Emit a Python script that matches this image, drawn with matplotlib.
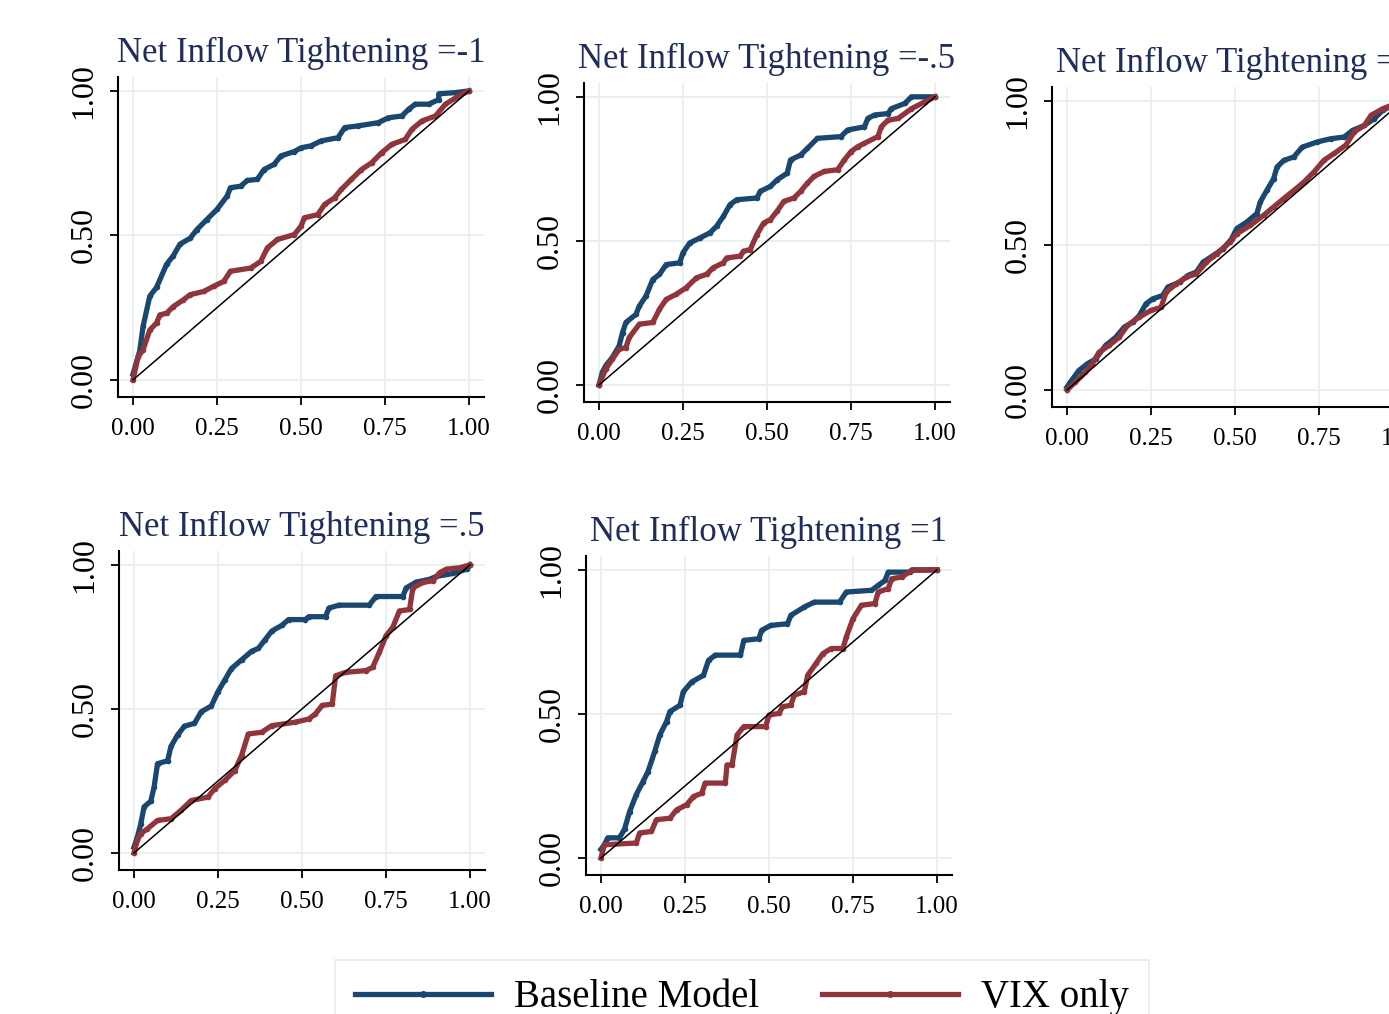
import matplotlib
matplotlib.use("Agg")
import matplotlib.pyplot as plt

plt.rcParams['font.family'] = ['Liberation Serif', 'DejaVu Serif']

titles = ["Net Inflow Tightening =-1", "Net Inflow Tightening =-.5",
          "Net Inflow Tightening =0", "Net Inflow Tightening =.5",
          "Net Inflow Tightening =1"]
series_names = ["Baseline Model", "VIX only"]
tick_vals = [0, 0.25, 0.5, 0.75, 1.0]
ytick_vals = [0, 0.5, 1.0]

# panel 1 (=-1)
base1_x = [0.00, 0.02, 0.03, 0.05, 0.07, 0.10, 0.12, 0.14, 0.17, 0.19, 0.22, 0.25, 0.28, 0.29,
           0.32, 0.34, 0.37, 0.39, 0.42, 0.44, 0.48, 0.50, 0.53, 0.56, 0.61, 0.63, 0.67, 0.73,
           0.76, 0.80, 0.82, 0.84, 0.88, 0.91, 0.91, 0.96, 1.00]
base1_y = [0.02, 0.10, 0.185, 0.29, 0.32, 0.40, 0.43, 0.47, 0.49, 0.52, 0.555, 0.59, 0.636, 0.665,
           0.67, 0.69, 0.694, 0.728, 0.746, 0.775, 0.79, 0.803, 0.81, 0.827, 0.838, 0.873, 0.879, 0.89,
           0.907, 0.913, 0.936, 0.954, 0.954, 0.97, 0.99, 0.994, 1.00]
vix1_x = [0.00, 0.015, 0.03, 0.05, 0.07, 0.08, 0.10, 0.12, 0.15, 0.17, 0.21, 0.24, 0.27, 0.29,
          0.35, 0.38, 0.40, 0.43, 0.48, 0.50, 0.51, 0.55, 0.57, 0.60, 0.62, 0.65, 0.68, 0.71,
          0.74, 0.77, 0.81, 0.83, 0.86, 0.90, 0.93, 0.97, 1.00]
vix1_y = [0.00, 0.08, 0.104, 0.173, 0.197, 0.225, 0.231, 0.254, 0.277, 0.295, 0.306, 0.324, 0.341, 0.376,
          0.387, 0.41, 0.457, 0.486, 0.503, 0.532, 0.561, 0.572, 0.607, 0.63, 0.659, 0.694, 0.728, 0.751,
          0.786, 0.815, 0.832, 0.867, 0.896, 0.913, 0.954, 0.983, 1.00]

# panel 2 (=-.5)
base2_x = [0.00, 0.01, 0.02, 0.04, 0.06, 0.07, 0.08, 0.11, 0.12, 0.14, 0.16, 0.18, 0.20, 0.24,
           0.25, 0.27, 0.30, 0.33, 0.35, 0.37, 0.39, 0.41, 0.47, 0.48, 0.51, 0.53, 0.56, 0.57,
           0.60, 0.62, 0.65, 0.72, 0.74, 0.79, 0.80, 0.82, 0.86, 0.87, 0.91, 0.93, 1.00]
base2_y = [0.00, 0.044, 0.067, 0.096, 0.136, 0.182, 0.217, 0.245, 0.274, 0.309, 0.366, 0.384, 0.418, 0.424,
           0.459, 0.493, 0.51, 0.528, 0.551, 0.585, 0.626, 0.643, 0.649, 0.672, 0.689, 0.712, 0.735, 0.781,
           0.798, 0.821, 0.856, 0.862, 0.885, 0.896, 0.925, 0.937, 0.942, 0.959, 0.977, 1.00, 1.00]
vix2_x = [0.00, 0.02, 0.04, 0.06, 0.08, 0.09, 0.12, 0.16, 0.18, 0.20, 0.23, 0.26, 0.29, 0.32,
          0.34, 0.37, 0.38, 0.42, 0.43, 0.45, 0.47, 0.49, 0.51, 0.53, 0.55, 0.58, 0.60, 0.62,
          0.64, 0.67, 0.71, 0.73, 0.75, 0.77, 0.79, 0.83, 0.84, 0.86, 0.89, 0.93, 0.97, 1.00]
vix2_y = [0.00, 0.055, 0.09, 0.124, 0.13, 0.165, 0.211, 0.217, 0.263, 0.297, 0.315, 0.338, 0.372, 0.384,
          0.407, 0.424, 0.441, 0.447, 0.464, 0.47, 0.522, 0.562, 0.574, 0.603, 0.637, 0.649, 0.672, 0.70,
          0.724, 0.741, 0.747, 0.781, 0.81, 0.827, 0.839, 0.862, 0.896, 0.919, 0.925, 0.959, 0.983, 1.00]

# panel 3 (=0)
base3_x = [0.00, 0.01, 0.035, 0.06, 0.085, 0.115, 0.145, 0.17, 0.195, 0.215, 0.235, 0.255, 0.285, 0.30,
           0.335, 0.36, 0.385, 0.405, 0.435, 0.465, 0.49, 0.505, 0.535, 0.565, 0.575, 0.595, 0.615,
           0.625, 0.645, 0.675, 0.70, 0.745, 0.785, 0.825, 0.85, 0.885, 0.915, 0.94, 0.96, 1.00]
base3_y = [0.01, 0.027, 0.067, 0.09, 0.107, 0.154, 0.182, 0.217, 0.234, 0.257, 0.298, 0.315, 0.327, 0.356,
           0.373, 0.396, 0.408, 0.442, 0.465, 0.488, 0.523, 0.558, 0.581, 0.61, 0.65, 0.691, 0.731,
           0.771, 0.794, 0.806, 0.84, 0.858, 0.869, 0.875, 0.898, 0.915, 0.939, 0.968, 0.979, 1.00]
vix3_x = [0.00, 0.025, 0.055, 0.075, 0.095, 0.125, 0.155, 0.18, 0.215, 0.25, 0.28, 0.295, 0.325, 0.355,
          0.385, 0.415, 0.445, 0.485, 0.505, 0.545, 0.585, 0.615, 0.645, 0.675, 0.705, 0.735, 0.765,
          0.795, 0.83, 0.855, 0.885, 0.905, 0.94, 1.00]
vix3_y = [0.00, 0.027, 0.061, 0.09, 0.13, 0.154, 0.182, 0.223, 0.252, 0.275, 0.286, 0.338, 0.367, 0.39,
          0.402, 0.442, 0.471, 0.512, 0.54, 0.569, 0.604, 0.633, 0.662, 0.69, 0.719, 0.754, 0.795,
          0.818, 0.847, 0.893, 0.915, 0.95, 0.973, 1.00]

# panel 4 (=.5)
base4_x = [0.00, 0.01, 0.02, 0.03, 0.05, 0.06, 0.07, 0.10, 0.11, 0.13, 0.15, 0.18, 0.20, 0.23,
           0.25, 0.27, 0.29, 0.32, 0.35, 0.37, 0.39, 0.41, 0.44, 0.46, 0.51, 0.52, 0.57, 0.58,
           0.61, 0.70, 0.72, 0.80, 0.81, 0.84, 0.88, 0.90, 0.95, 0.99, 1.00]
base4_y = [0.02, 0.055, 0.10, 0.16, 0.18, 0.23, 0.31, 0.32, 0.37, 0.41, 0.44, 0.45, 0.49, 0.51,
           0.56, 0.60, 0.64, 0.67, 0.70, 0.71, 0.74, 0.77, 0.79, 0.81, 0.81, 0.82, 0.82, 0.85,
           0.86, 0.86, 0.89, 0.89, 0.92, 0.94, 0.95, 0.96, 0.97, 0.985, 1.00]
vix4_x = [0.00, 0.01, 0.02, 0.04, 0.07, 0.11, 0.14, 0.17, 0.22, 0.24, 0.27, 0.30, 0.32, 0.34,
          0.38, 0.41, 0.48, 0.52, 0.54, 0.56, 0.59, 0.60, 0.63, 0.69, 0.71, 0.73, 0.75, 0.77,
          0.79, 0.82, 0.83, 0.86, 0.89, 0.91, 0.93, 0.97, 1.00]
vix4_y = [0.00, 0.044, 0.067, 0.084, 0.113, 0.119, 0.148, 0.182, 0.194, 0.223, 0.252, 0.286, 0.338, 0.413,
          0.419, 0.442, 0.454, 0.465, 0.483, 0.512, 0.517, 0.615, 0.627, 0.633, 0.644, 0.696, 0.754, 0.783,
          0.84, 0.845, 0.92, 0.939, 0.945, 0.973, 0.985, 0.99, 1.00]

# panel 5 (=1)
base5_x = [0.00, 0.01, 0.02, 0.055, 0.07, 0.085, 0.105, 0.125, 0.14, 0.16, 0.175, 0.195, 0.205, 0.235,
           0.245, 0.27, 0.305, 0.32, 0.34, 0.415, 0.425, 0.47, 0.478, 0.505, 0.555, 0.565, 0.605,
           0.635, 0.71, 0.73, 0.805, 0.825, 0.845, 0.855, 0.92, 0.925, 1.00]
base5_y = [0.03, 0.046, 0.07, 0.07, 0.10, 0.16, 0.22, 0.265, 0.30, 0.37, 0.427, 0.473, 0.508, 0.53,
           0.577, 0.611, 0.634, 0.686, 0.704, 0.704, 0.755, 0.761, 0.79, 0.807, 0.813, 0.842, 0.871,
           0.888, 0.888, 0.923, 0.929, 0.946, 0.963, 0.992, 0.992, 1.00, 1.00]
vix5_x = [0.00, 0.01, 0.105, 0.115, 0.15, 0.165, 0.205, 0.225, 0.255, 0.275, 0.30, 0.31, 0.37, 0.375,
          0.39, 0.405, 0.425, 0.49, 0.50, 0.53, 0.54, 0.565, 0.575, 0.605, 0.615, 0.64, 0.66,
          0.685, 0.72, 0.73, 0.75, 0.775, 0.815, 0.825, 0.855, 0.865, 0.895, 0.925, 1.00]
vix5_y = [0.00, 0.046, 0.052, 0.087, 0.092, 0.133, 0.138, 0.167, 0.185, 0.213, 0.225, 0.26, 0.26, 0.323,
          0.323, 0.427, 0.456, 0.456, 0.496, 0.502, 0.525, 0.53, 0.565, 0.577, 0.634, 0.675, 0.709,
          0.727, 0.727, 0.767, 0.831, 0.877, 0.883, 0.923, 0.935, 0.969, 0.975, 0.998, 1.00]

panels = [
    (base1_x, base1_y, vix1_x, vix1_y),
    (base2_x, base2_y, vix2_x, vix2_y),
    (base3_x, base3_y, vix3_x, vix3_y),
    (base4_x, base4_y, vix4_x, vix4_y),
    (base5_x, base5_y, vix5_x, vix5_y),
]

# pixel boxes (left, top, right, bottom) of each plot region
boxes = [(118, 77, 484, 397), (584, 83, 950, 402), (1052, 87, 1418, 407),
         (119, 551, 485, 870), (586, 556, 952, 875)]

W, H = 1389, 1014
navy = '#1a476f'
maroon = '#90353b'
title_col = '#1f2d5c'
grid_col = '#e8eff1'

fig = plt.figure(figsize=(W / 100, H / 100), dpi=100)
fig.patch.set_facecolor('white')

handles = []
for i, (bx, by, vx, vy) in enumerate(panels):
    l, t, r, b = boxes[i]
    ax = fig.add_axes([l / W, 1 - b / H, (r - l) / W, (b - t) / H])
    ax.set_xlim(-0.0446, 1.0446)
    ax.set_ylim(-0.059, 1.048)
    ax.set_xticks(tick_vals)
    ax.set_yticks(ytick_vals)
    ax.set_xticklabels(['%.2f' % v for v in tick_vals])
    ax.set_yticklabels(['%.2f' % v for v in ytick_vals])
    ax.grid(True, color=grid_col, lw=1.3, zorder=0)
    ax.set_axisbelow(True)
    for s in ['top', 'right']:
        ax.spines[s].set_visible(False)
    for s in ['left', 'bottom']:
        ax.spines[s].set_linewidth(1.5)
    ax.tick_params(axis='x', labelsize=18, length=6, width=1.3, pad=9)
    ax.tick_params(axis='y', labelsize=23, length=6, width=1.3, pad=8, labelrotation=90)
    for lab in ax.get_yticklabels():
        lab.set_va('center')
    h1, = ax.plot(bx, by, color=navy, lw=3.8, marker='o', ms=3, zorder=3)
    h2, = ax.plot(vx, vy, color=maroon, lw=3.8, marker='o', ms=3, zorder=3)
    ax.plot([0, 1], [0, 1], color='black', lw=1.1, zorder=4)
    ax.set_title(titles[i], fontsize=25, color=title_col, pad=11)
    if i == 0:
        handles = [h1, h2]

leg = fig.legend(handles, series_names, loc='upper center',
                 bbox_to_anchor=(742 / W, 1 - 960 / H), ncol=2, fontsize=28,
                 frameon=True, fancybox=False, numpoints=1, handlelength=3.5,
                 handletextpad=0.6, columnspacing=1.6, borderpad=0.5,
                 borderaxespad=0)
leg.get_frame().set_edgecolor('#dfe8ea')
leg.get_frame().set_linewidth(1.2)
for ln in leg.get_lines():
    ln.set_markersize(4)

fig.savefig('out.png', dpi=100)
